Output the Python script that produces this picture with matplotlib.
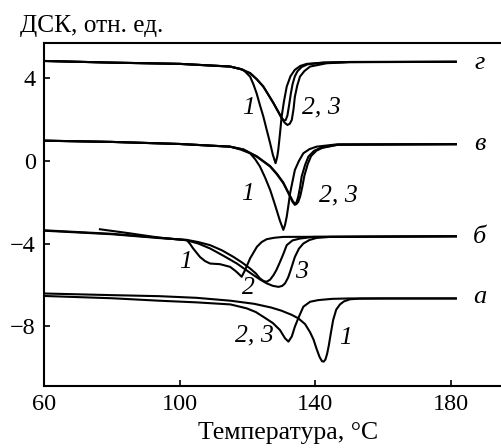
import matplotlib
matplotlib.use('Agg')
import matplotlib.pyplot as plt

plt.rcParams['font.family'] = ['Liberation Serif', 'DejaVu Serif']

# --- data (temperature, DSC signal) ---
# curve set "а"
t_a1 = [60, 80, 94, 105, 115, 122, 127, 130, 133, 135, 137, 138.5, 139.5, 140.4, 141.3,
        142.0, 142.5, 143.0, 143.5, 144.0, 144.6, 145.3, 146.2, 147.3, 148.5, 150.3, 153, 160, 181.5]
s_a1 = [-6.42, -6.50, -6.55, -6.63, -6.77, -6.92, -7.10, -7.25, -7.45, -7.62, -7.90, -8.30, -8.65,
        -9.10, -9.50, -9.70, -9.72, -9.62, -9.35, -8.95, -8.35, -7.70, -7.20, -6.95, -6.80, -6.70,
        -6.67, -6.66, -6.66]
t_a23 = [60, 80, 94, 105, 115, 119.8, 122.5, 124.7, 127.5, 129.6, 131.1, 132.1, 133.1, 134.0,
         135.0, 136.5, 138.5, 140.9, 145, 150, 181.5]
s_a23 = [-6.54, -6.65, -6.77, -6.85, -6.95, -7.14, -7.32, -7.55, -7.85, -8.19, -8.59, -8.75,
         -8.50, -8.03, -7.62, -7.06, -6.82, -6.74, -6.68, -6.66, -6.66]

# curve set "б"
t_b1 = [60, 80, 94.2, 102.1, 103, 104, 106, 107.5, 109, 111.9, 114.9, 116.5, 117.3, 118.3,
        119.3, 120.8, 122.8, 124.2, 125.7, 128, 130.6, 181.5]
s_b1 = [-3.36, -3.53, -3.72, -3.84, -4.0, -4.24, -4.65, -4.85, -4.97, -5.0, -5.13, -5.33, -5.45,
        -5.61, -5.29, -4.72, -4.16, -3.93, -3.79, -3.72, -3.68, -3.65]
t_b2 = [60, 80, 94.2, 102, 105.5, 109, 112.5, 115.9, 118.5, 120.8, 122.5, 123.7, 124.8, 125.7,
        126.7, 127.7, 128.5, 129.2, 130.5, 131.6, 133.3, 135.5, 139.4, 181.5]
s_b2 = [-3.38, -3.55, -3.74, -3.82, -3.93, -4.08, -4.33, -4.65, -4.93, -5.21, -5.45, -5.69,
        -5.82, -5.85, -5.75, -5.53, -5.30, -5.05, -4.55, -4.08, -3.85, -3.76, -3.68, -3.65]
t_b3 = [76.5, 85, 94.2, 102, 105.5, 109, 113, 116.9, 119.5, 121.8, 123.8, 125.7, 127.5, 129.2,
        130.3, 131.1, 132, 132.6, 134, 135.2, 136.5, 138.3, 140.4, 144.4, 181.5]
s_b3 = [-3.31, -3.50, -3.72, -3.84, -4.0, -4.24, -4.60, -4.97, -5.27, -5.53, -5.75, -5.93,
        -6.05, -6.10, -6.05, -5.93, -5.65, -5.37, -4.65, -4.25, -4.0, -3.83, -3.73, -3.68, -3.65]

# curve set "в"
t_v1 = [60, 80, 100, 114.9, 118, 120.8, 122.3, 123.7, 125.2, 126.7, 127.7, 128.6, 129.6, 130.6,
        131.1, 131.6, 132.1, 132.6, 133.3, 134.0, 135.2, 136.5, 138.3, 140.4, 146.3, 181.5]
s_v1 = [0.98, 0.92, 0.82, 0.69, 0.55, 0.37, 0.08, -0.27, -0.8, -1.4, -1.9, -2.37, -2.9, -3.34,
        -3.1, -2.7, -2.15, -1.56, -1.0, -0.44, 0.0, 0.37, 0.57, 0.69, 0.80, 0.81]
t_v2 = [60, 80, 100, 114.9, 118.8, 122.8, 126.7, 128.7, 130.6, 131.6, 132.6, 133.3, 134.0, 134.5,
        135.0, 135.5, 136.0, 137.0, 138.0, 139.6, 141.4, 146.3, 181.5]
s_v2 = [0.98, 0.92, 0.82, 0.69, 0.55, 0.20, -0.27, -0.65, -1.08, -1.40, -1.73, -1.98, -2.13,
        -2.0, -1.73, -1.30, -0.76, -0.20, 0.21, 0.48, 0.62, 0.78, 0.81]
t_v3 = [60, 80, 100, 114.9, 118.8, 122.8, 126.7, 128.7, 130.6, 131.6, 132.6, 133.5, 134.4, 135.0,
        135.6, 136.2, 136.8, 137.8, 138.8, 140.4, 142.2, 147.0, 181.5]
s_v3 = [0.98, 0.92, 0.82, 0.69, 0.56, 0.22, -0.25, -0.62, -1.05, -1.38, -1.70, -1.98, -2.10,
        -1.98, -1.70, -1.25, -0.72, -0.15, 0.24, 0.50, 0.64, 0.79, 0.81]

# curve set "г"
t_g1 = [60, 80, 100, 114.9, 118.8, 120.8, 121.8, 122.7, 123.7, 124.7, 125.7, 126.7, 127.5,
        128.3, 128.8, 129.1, 129.6, 130.1, 130.8, 131.6, 132.7, 134, 135.6, 137.5, 142.4, 150, 181.5]
s_g1 = [4.84, 4.76, 4.70, 4.57, 4.41, 4.08, 3.70, 3.28, 2.70, 2.15, 1.50, 0.86, 0.30, -0.11, 0.20,
        0.53, 1.30, 2.15, 2.90, 3.60, 4.10, 4.41, 4.60, 4.70, 4.76, 4.79, 4.80]
t_g2 = [60, 80, 100, 114.9, 118, 120.8, 122.8, 124.7, 126.2, 127.7, 129, 130.1, 131, 131.8,
        132.5, 133.1, 133.6, 134, 134.7, 135.5, 136.8, 138.5, 143.4, 150, 181.5]
s_g2 = [4.84, 4.76, 4.70, 4.57, 4.45, 4.25, 3.95, 3.60, 3.20, 2.79, 2.40, 2.07, 1.85, 1.74, 1.80,
        1.99, 2.50, 3.11, 3.65, 4.08, 4.35, 4.57, 4.73, 4.78, 4.80]
t_g3 = [60, 80, 100, 114.9, 118, 120.8, 122.8, 124.7, 126.2, 127.7, 129, 130.0, 130.8, 131.3,
        131.8, 132.3, 132.8, 133.3, 134.0, 134.8, 136.0, 137.8, 142.5, 150, 181.5]
s_g3 = [4.84, 4.76, 4.70, 4.57, 4.45, 4.25, 3.95, 3.60, 3.20, 2.80, 2.42, 2.12, 1.95, 1.98, 2.20,
        2.70, 3.25, 3.70, 4.10, 4.35, 4.55, 4.68, 4.76, 4.79, 4.80]

curves = [(t_a1, s_a1), (t_a23, s_a23), (t_b1, s_b1), (t_b2, s_b2), (t_b3, s_b3),
          (t_v1, s_v1), (t_v2, s_v2), (t_v3, s_v3), (t_g1, s_g1), (t_g2, s_g2), (t_g3, s_g3)]

set_labels = ['а', 'б', 'в', 'г']
set_label_y = [-6.58, -3.68, 0.82, 4.75]
num_labels = ['1', '2, 3', '1', '2', '3', '1', '2, 3', '1', '2, 3']
num_x = [148.8, 122.0, 101.6, 120.3, 136.0, 120.0, 146.8, 120.3, 141.9]
num_y = [-8.59, -8.43, -4.89, -6.17, -5.37, -1.6, -1.65, 2.57, 2.57]

xticks = [60, 100, 140, 180]
yticks = [-8, -4, 0, 4]

fig = plt.figure(figsize=(5.02, 4.48), dpi=100)
ax = fig.add_axes([44 / 502, 1 - 386 / 448, (502 - 44) / 502, (386 - 43) / 448])

for t, s in curves:
    ax.plot(t, s, color='black', lw=1.5, solid_joinstyle='round')

for lab, y in zip(set_labels, set_label_y):
    ax.text(188.6, y, lab, fontsize=19, style='italic', ha='center', va='center')
for lab, x, y in zip(num_labels, num_x, num_y):
    ax.text(x, y, lab, fontsize=18.5, style='italic', ha='center', va='center')

ax.set_xlim(60, 195.1)
ax.set_ylim(-10.9, 5.71)
ax.set_xticks(xticks)
ax.set_yticks(yticks)
ax.tick_params(direction='in', length=4.5, width=1.2, labelsize=17.5, pad=6)
ax.spines['right'].set_visible(False)
for side in ['left', 'bottom', 'top']:
    ax.spines[side].set_linewidth(1.5)

fig.text(288 / 502, 1 - 433 / 448, 'Температура, °C', fontsize=18.5, ha='center', va='center')
fig.text(20 / 502, 1 - 26 / 448, 'ДСК, отн. ед.', fontsize=18.3, ha='left', va='center')

fig.savefig('out.png', dpi=100)
